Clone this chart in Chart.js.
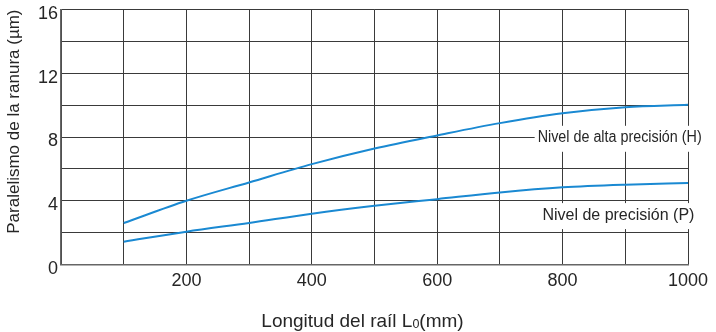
<!DOCTYPE html>
<html>
<head>
<meta charset="utf-8">
<script src="https://cdn.jsdelivr.net/npm/chart.js@4/dist/chart.umd.min.js"></script>
<style>
  html, body { margin: 0; padding: 0; background: #ffffff; }
  #wrap { width: 716px; height: 332px; }
</style>
</head>
<body>
<div id="wrap"><canvas id="c" width="716" height="332"></canvas></div>
<script>
// ---- data ----
const railLength = [100, 200, 300, 400, 500, 600, 700, 800, 900, 1000];
const highPrecision = [2.6, 4.0, 5.15, 6.3, 7.28, 8.1, 8.87, 9.49, 9.87, 10.02];
const precision = [1.43, 2.06, 2.61, 3.19, 3.68, 4.1, 4.52, 4.84, 5.01, 5.11];
const xTickLabels = [200, 400, 600, 800, 1000];
const yTickLabels = [0, 4, 8, 12, 16];
const seriesLabels = ['Nivel de alta precisión (H)', 'Nivel de precisión (P)'];
const seriesLabelX = [891, 889];
const seriesLabelY = [7.95, 3.1];
const xTitle = ['Longitud del raíl L', '0', '(mm)'];
const yTitle = 'Paralelismo de la ranura (µm)';

const FONT = "'Liberation Sans', Arial, Helvetica, sans-serif";
const TEXT = '#262626';
const LINE = '#1a89d2';
const labelMaxWidth = [164, 154];

const toPts = (ys) => railLength.map((x, i) => ({ x: x, y: ys[i] }));

const labelPlugin = {
  id: 'seriesLabels',
  afterDatasetsDraw(chart) {
    const ctx = chart.ctx;
    const xs = chart.scales.x, ys = chart.scales.y;
    ctx.save();
    ctx.font = '16px ' + FONT;
    ctx.textAlign = 'center';
    ctx.textBaseline = 'middle';
    seriesLabels.forEach((t, i) => {
      const px = xs.getPixelForValue(seriesLabelX[i]);
      const py = ys.getPixelForValue(seriesLabelY[i]);
      const w = Math.min(ctx.measureText(t).width, labelMaxWidth[i]);
      ctx.fillStyle = '#ffffff';
      ctx.fillRect(px - w / 2 - 3, py - 12, w + 6, 26);
      ctx.fillStyle = TEXT;
      ctx.fillText(t, px, py, labelMaxWidth[i]);
    });
    ctx.restore();
  }
};

const xTitlePlugin = {
  id: 'xTitle',
  afterDraw(chart) {
    const ctx = chart.ctx;
    const area = chart.chartArea;
    ctx.save();
    ctx.fillStyle = TEXT;
    ctx.textBaseline = 'alphabetic';
    ctx.textAlign = 'left';
    const big = '19px ' + FONT, small = '12.5px ' + FONT;
    ctx.font = big; const w0 = ctx.measureText(xTitle[0]).width;
    const w2 = ctx.measureText(xTitle[2]).width;
    ctx.font = small; const w1 = ctx.measureText(xTitle[1]).width;
    const total = w0 + w1 + w2;
    const cx = (area.left + area.right) / 2 - 12;
    const base = 327;
    let x = cx - total / 2;
    ctx.font = big; ctx.fillText(xTitle[0], x, base); x += w0;
    ctx.font = small; ctx.fillText(xTitle[1], x, base + 1); x += w1;
    ctx.font = big; ctx.fillText(xTitle[2], x, base);
    ctx.restore();
  }
};

new Chart(document.getElementById('c'), {
  type: 'line',
  data: {
    datasets: [
      { label: seriesLabels[0], data: toPts(highPrecision), borderColor: LINE, borderWidth: 2, pointRadius: 0, tension: 0.4, cubicInterpolationMode: 'monotone', fill: false },
      { label: seriesLabels[1], data: toPts(precision), borderColor: LINE, borderWidth: 2, pointRadius: 0, tension: 0.4, cubicInterpolationMode: 'monotone', fill: false }
    ]
  },
  options: {
    responsive: false,
    animation: false,
    devicePixelRatio: 1,
    layout: { padding: { left: 0, right: 28, top: 9.5, bottom: 0 } },
    plugins: { legend: { display: false }, tooltip: { enabled: false } },
    scales: {
      x: {
        type: 'linear', min: 0, max: 1000,
        grid: { color: '#3a3a3a', lineWidth: 1, drawTicks: false },
        border: { color: '#666666', width: 1.5 },
        ticks: {
          stepSize: 100, padding: 6, color: TEXT, font: { family: FONT, size: 18 },
          maxRotation: 0, autoSkip: false,
          callback: (v) => xTickLabels.includes(v) ? String(v) : ''
        },
        afterFit: (s) => { s.height = 67.5; s.paddingLeft = 0; s.paddingRight = 0; }
      },
      y: {
        type: 'linear', min: 0, max: 16,
        grid: { color: '#3a3a3a', lineWidth: 1, drawTicks: false },
        border: { color: '#666666', width: 1.5 },
        ticks: {
          stepSize: 2, padding: 3, labelOffset: 4.5, color: TEXT, font: { family: FONT, size: 18 },
          autoSkip: false,
          callback: (v) => yTickLabels.includes(v) ? String(v) : ''
        },
        title: { display: true, text: yTitle, align: 'end', color: TEXT, font: { family: FONT, size: 17 }, padding: { top: 4, bottom: 0 } },
        afterFit: (s) => { s.width = 61; s.paddingTop = 0; s.paddingBottom = 0; }
      }
    }
  },
  plugins: [labelPlugin, xTitlePlugin]
});
</script>
</body>
</html>
